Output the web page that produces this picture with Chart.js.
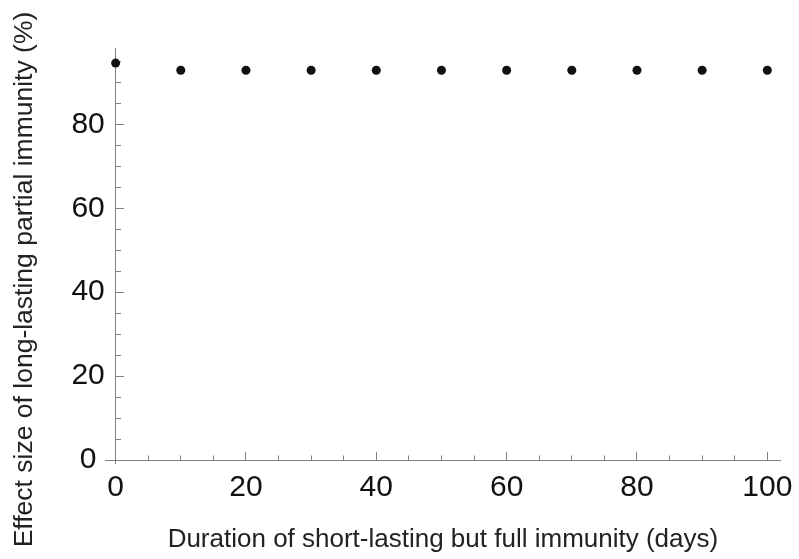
<!DOCTYPE html>
<html>
<head>
<meta charset="utf-8">
<script src="https://cdn.jsdelivr.net/npm/chart.js@4.4.1/dist/chart.umd.min.js"></script>
<style>
  html, body { margin: 0; padding: 0; background: #fff; }
  #wrap { width: 799px; height: 559px; }
</style>
</head>
<body>
<div id="wrap"><canvas id="chart"></canvas></div>
<script>
// values
const durations = [0, 10, 20, 30, 40, 50, 60, 70, 80, 90, 100];
const effectSizes = [94.6, 92.9, 92.9, 92.9, 92.9, 92.9, 92.9, 92.9, 92.9, 92.9, 92.9];
const xTickValues = [0, 20, 40, 60, 80, 100];
const yTickValues = [0, 20, 40, 60, 80];

const xTitle = 'Duration of short-lasting but full immunity (days)';
const yTitle = 'Effect size of long-lasting partial immunity (%)';

const FONT = '"Liberation Sans", Arial, Helvetica, sans-serif';
const AXIS_COLOR = '#808080';
const X_MIN = -1.66, X_MAX = 102.1;
const Y_MIN = -0.95, Y_MAX = 98.2;

const points = durations.map((d, i) => ({ x: d, y: effectSizes[i] }));

// only the zero grid line is visible, it plays the part of the crossing axis
function zeroLine(ctx) {
  return ctx.tick && ctx.tick.value === 0 ? AXIS_COLOR : 'rgba(0,0,0,0)';
}

// extra axes that only draw inward tick marks along the zero lines
function tickAxis(axis, at, min, max, step, length) {
  return {
    type: 'linear',
    axis: axis,
    position: at,
    min: min,
    max: max,
    ticks: { display: false, stepSize: step, includeBounds: false },
    grid: { drawOnChartArea: false, drawTicks: true, tickLength: -length, color: AXIS_COLOR, lineWidth: 1 },
    border: { display: false }
  };
}

const ctx = document.getElementById('chart').getContext('2d');
new Chart(ctx, {
  type: 'scatter',
  data: {
    datasets: [{
      data: points,
      pointRadius: 4.5,
      pointHoverRadius: 4.5,
      pointBackgroundColor: '#111',
      pointBorderWidth: 0,
      clip: false
    }]
  },
  options: {
    responsive: true,
    maintainAspectRatio: false,
    animation: false,
    events: [],
    layout: { padding: { left: 0, right: 18, top: 0, bottom: 0 } },
    plugins: {
      legend: { display: false },
      tooltip: { enabled: false },
      // empty subtitle only reserves the space above the plot
      subtitle: {
        display: true,
        text: '',
        font: { size: 10, lineHeight: 1 },
        padding: { top: 38, bottom: 0 }
      },
      title: {
        display: true,
        position: 'left',
        text: yTitle,
        color: '#222',
        font: { family: FONT, size: 26.5, weight: 'normal', lineHeight: 1.2 },
        padding: { top: 9, bottom: 0 }
      }
    },
    scales: {
      x: {
        type: 'linear',
        position: 'bottom',
        min: X_MIN,
        max: X_MAX,
        afterBuildTicks: (scale) => { scale.ticks = xTickValues.map(v => ({ value: v })); },
        ticks: { color: '#111', padding: 6, maxRotation: 0, font: { family: FONT, size: 30 } },
        grid: { drawTicks: false, color: zeroLine, lineWidth: 1 },
        border: { display: false },
        title: {
          display: true,
          text: xTitle,
          color: '#222',
          font: { family: FONT, size: 26, lineHeight: 1.2 },
          padding: { top: 0, bottom: 4 }
        },
        afterFit: (scale) => { scale.height = 95; }
      },
      y: {
        type: 'linear',
        position: 'left',
        min: Y_MIN,
        max: Y_MAX,
        afterBuildTicks: (scale) => { scale.ticks = yTickValues.map(v => ({ value: v })); },
        ticks: {
          color: '#111',
          padding: 0,
          font: { family: FONT, size: 30 },
          // the zero label sits left of the crossing x axis
          callback: (v) => (v === 0 ? '0 ' : String(v))
        },
        grid: { drawTicks: false, color: zeroLine, lineWidth: 1 },
        border: { display: false },
        afterFit: (scale) => { scale.width = 64; }
      },
      xMajor: tickAxis('x', { y: 0 }, X_MIN, X_MAX, 20, 8),
      xMinor: tickAxis('x', { y: 0 }, X_MIN, X_MAX, 5, 4.5),
      yMajor: tickAxis('y', { x: 0 }, Y_MIN, Y_MAX, 20, 8),
      yMinor: tickAxis('y', { x: 0 }, Y_MIN, Y_MAX, 5, 5)
    }
  }
});
</script>
</body>
</html>
